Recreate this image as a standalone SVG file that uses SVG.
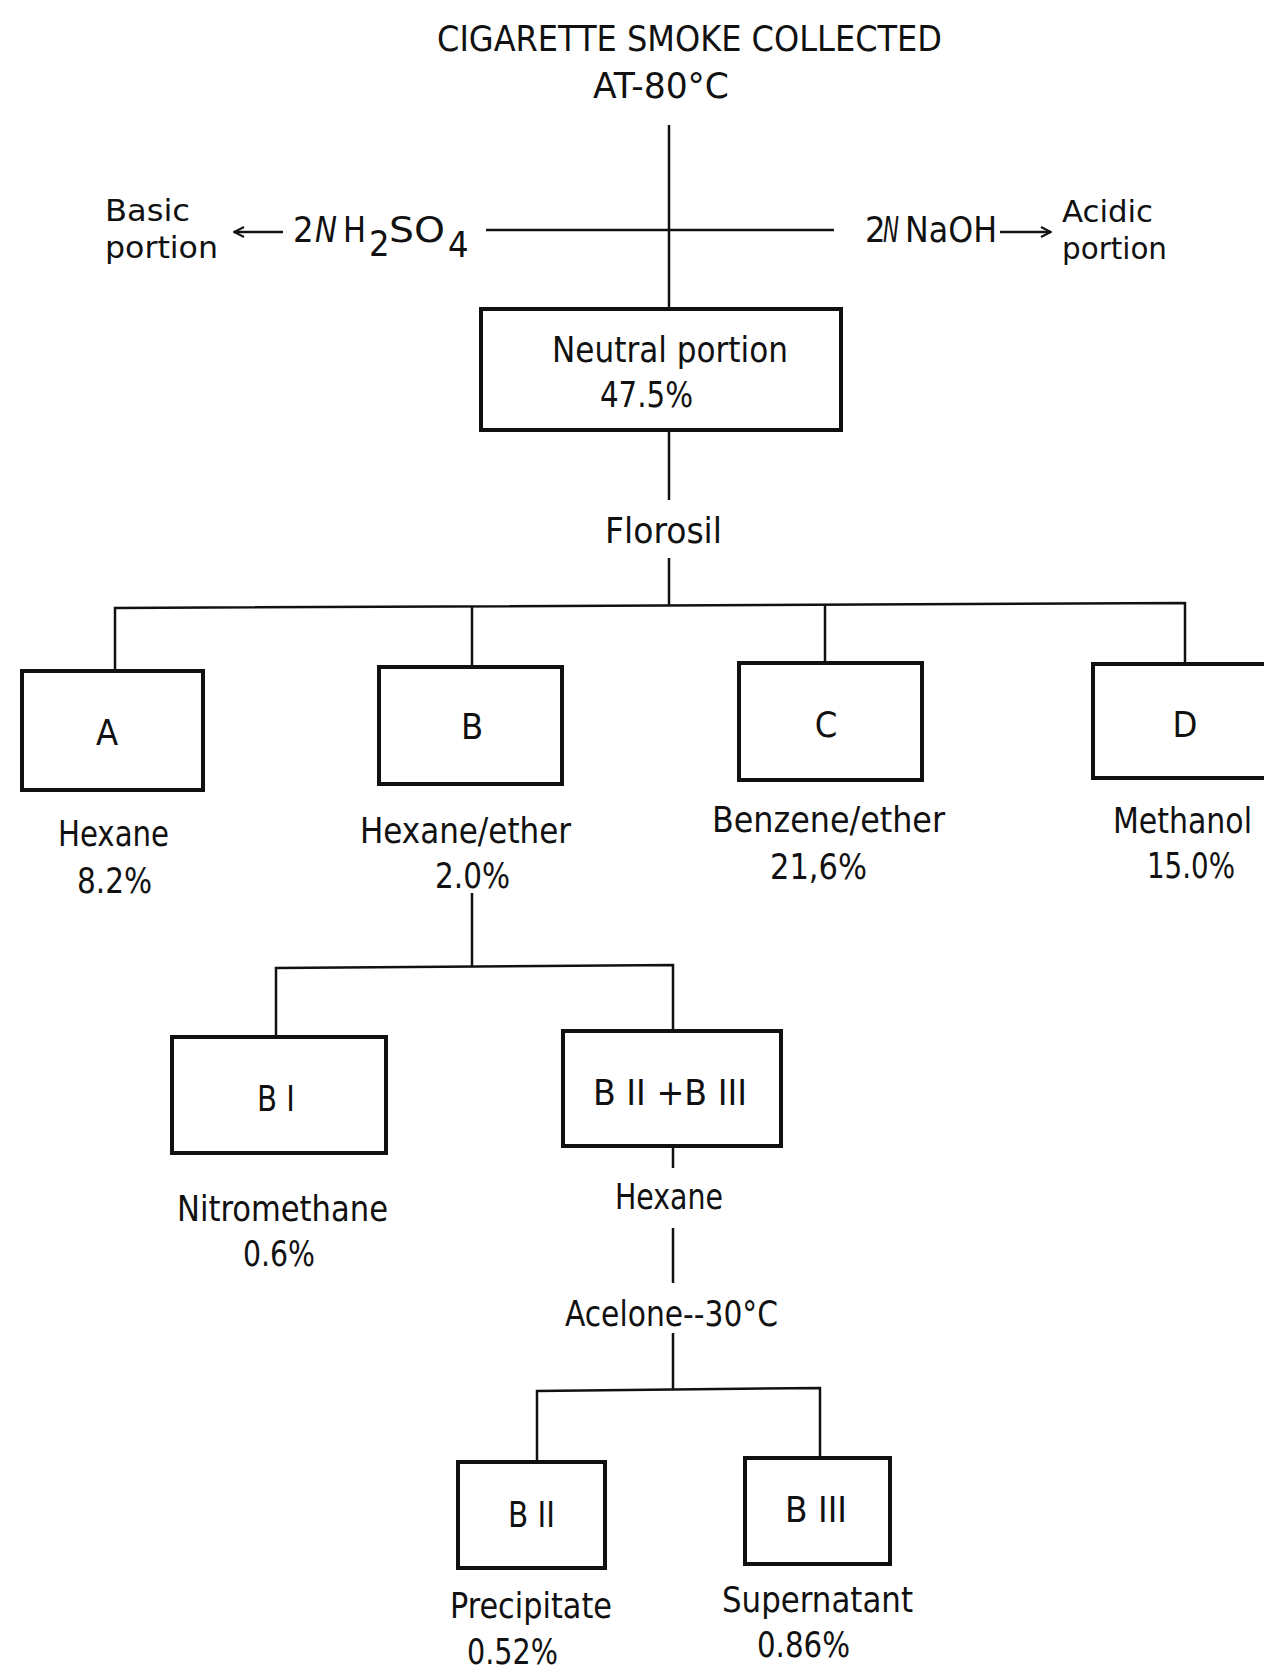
<svg xmlns="http://www.w3.org/2000/svg" width="1264" height="1671" viewBox="0 0 1264 1671">
<style>
text{font-family:"DejaVu Sans Condensed","DejaVu Sans","Liberation Sans Narrow",sans-serif;font-size:36px;fill:#111;}
.c{text-anchor:middle;}
.box{fill:none;stroke:#111;stroke-width:4;}
.ln{fill:none;stroke:#111;stroke-width:2.5;}
.it{font-style:italic;}
.sm{font-size:31px;}
</style>
<defs>
<marker id="ah" viewBox="0 0 12 12" refX="11" refY="6" markerWidth="12" markerHeight="12" markerUnits="userSpaceOnUse" orient="auto">
<path d="M1,1 L11,6 L1,11" fill="none" stroke="#111" stroke-width="2"/>
</marker>
</defs>
<rect width="1264" height="1671" fill="#fff"/>

<g id="connectors">
<line class="ln" x1="669" y1="125" x2="669" y2="309"/>
<line class="ln" x1="486" y1="230" x2="834" y2="230" stroke-width="3"/>
<line class="ln" x1="283" y1="232" x2="234" y2="232" marker-end="url(#ah)"/>
<line class="ln" x1="1000" y1="232" x2="1051" y2="232" marker-end="url(#ah)"/>
<line class="ln" x1="669" y1="430" x2="669" y2="500"/>
<line class="ln" x1="669" y1="558" x2="669" y2="605"/>
<polyline class="ln" points="115,671 115,608 1185,603 1185,664"/>
<line class="ln" x1="472" y1="606" x2="472" y2="667"/>
<line class="ln" x1="825" y1="604" x2="825" y2="663"/>
<line class="ln" x1="472" y1="893" x2="472" y2="966"/>
<polyline class="ln" points="276,1037 276,968 673,965 673,1031"/>
<line class="ln" x1="673" y1="1146" x2="673" y2="1168"/>
<line class="ln" x1="673" y1="1228" x2="673" y2="1283"/>
<line class="ln" x1="673" y1="1333" x2="673" y2="1389"/>
<polyline class="ln" points="537,1462 537,1391 820,1388 820,1458"/>
</g>

<g id="title">
<text x="437" y="51" textLength="505" lengthAdjust="spacingAndGlyphs">CIGARETTE SMOKE COLLECTED</text>
<text x="593" y="98" textLength="136" lengthAdjust="spacingAndGlyphs">AT-80°C</text>
</g>

<g id="basic">
<text class="sm" x="105" y="221" textLength="85" lengthAdjust="spacingAndGlyphs">Basic</text>
<text class="sm" x="105" y="258" textLength="113" lengthAdjust="spacingAndGlyphs">portion</text>
</g>
<g id="h2so4">
<text x="293" y="242">2</text>
<text x="315" y="242" class="it" textLength="22" lengthAdjust="spacingAndGlyphs">N</text>
<text x="343" y="242" textLength="23" lengthAdjust="spacingAndGlyphs">H</text>
<text x="369" y="256" font-size="32">2</text>
<text x="389" y="242" textLength="56" lengthAdjust="spacingAndGlyphs">SO</text>
<text x="448" y="257" font-size="32">4</text>
</g>
<g id="naoh">
<text x="865" y="242">2</text>
<text x="883" y="242" class="it" textLength="16" lengthAdjust="spacingAndGlyphs">N</text>
<text x="905" y="242" textLength="92" lengthAdjust="spacingAndGlyphs">NaOH</text>
</g>
<g id="acidic">
<text class="sm" x="1062" y="222" textLength="91" lengthAdjust="spacingAndGlyphs">Acidic</text>
<text class="sm" x="1062" y="259" textLength="105" lengthAdjust="spacingAndGlyphs">portion</text>
</g>

<g id="neutral">
<rect class="box" x="481" y="309" width="360" height="121"/>
<text x="552" y="362" textLength="236" lengthAdjust="spacingAndGlyphs">Neutral portion</text>
<text x="600" y="407" textLength="93" lengthAdjust="spacingAndGlyphs">47.5%</text>
</g>
<g id="florosil">
<text x="605" y="543" textLength="117" lengthAdjust="spacingAndGlyphs">Florosil</text>
</g>

<g id="A">
<rect class="box" x="22" y="671" width="181" height="119"/>
<text class="c" x="107" y="745">A</text>
<text x="58" y="846" textLength="111" lengthAdjust="spacingAndGlyphs">Hexane</text>
<text x="77" y="893" textLength="75" lengthAdjust="spacingAndGlyphs">8.2%</text>
</g>
<g id="B">
<rect class="box" x="379" y="667" width="183" height="117"/>
<text class="c" x="472" y="739">B</text>
<text x="360" y="843" textLength="211" lengthAdjust="spacingAndGlyphs">Hexane/ether</text>
<text x="435" y="888" textLength="75" lengthAdjust="spacingAndGlyphs">2.0%</text>
</g>
<g id="C">
<rect class="box" x="739" y="663" width="183" height="117"/>
<text class="c" x="826" y="737">C</text>
<text x="712" y="832" textLength="233" lengthAdjust="spacingAndGlyphs">Benzene/ether</text>
<text x="770" y="879" textLength="97" lengthAdjust="spacingAndGlyphs">21,6%</text>
</g>
<g id="D">
<rect class="box" x="1093" y="664" width="190" height="114"/>
<text class="c" x="1185" y="737">D</text>
<text x="1113" y="833" textLength="139" lengthAdjust="spacingAndGlyphs">Methanol</text>
<text x="1147" y="878" textLength="88" lengthAdjust="spacingAndGlyphs">15.0%</text>
</g>

<g id="BI">
<rect class="box" x="172" y="1037" width="214" height="116"/>
<text x="257" y="1111" textLength="38" lengthAdjust="spacingAndGlyphs">B I</text>
<text x="177" y="1221" textLength="211" lengthAdjust="spacingAndGlyphs">Nitromethane</text>
<text x="243" y="1266" textLength="72" lengthAdjust="spacingAndGlyphs">0.6%</text>
</g>
<g id="BIIBIII">
<rect class="box" x="563" y="1031" width="218" height="115"/>
<text x="593" y="1105" textLength="154" lengthAdjust="spacingAndGlyphs">B II +B III</text>
</g>
<g id="hexane2">
<text x="615" y="1209" textLength="108" lengthAdjust="spacingAndGlyphs">Hexane</text>
</g>
<g id="acetone">
<text x="565" y="1326" textLength="213" lengthAdjust="spacingAndGlyphs">Acelone--30°C</text>
</g>
<g id="BII">
<rect class="box" x="458" y="1462" width="147" height="106"/>
<text x="508" y="1527" textLength="47" lengthAdjust="spacingAndGlyphs">B II</text>
<text x="450" y="1618" textLength="162" lengthAdjust="spacingAndGlyphs">Precipitate</text>
<text x="467" y="1664" textLength="91" lengthAdjust="spacingAndGlyphs">0.52%</text>
</g>
<g id="BIII">
<rect class="box" x="745" y="1458" width="145" height="106"/>
<text x="785" y="1522" textLength="62" lengthAdjust="spacingAndGlyphs">B III</text>
<text x="722" y="1612" textLength="191" lengthAdjust="spacingAndGlyphs">Supernatant</text>
<text x="757" y="1657" textLength="93" lengthAdjust="spacingAndGlyphs">0.86%</text>
</g>
</svg>
